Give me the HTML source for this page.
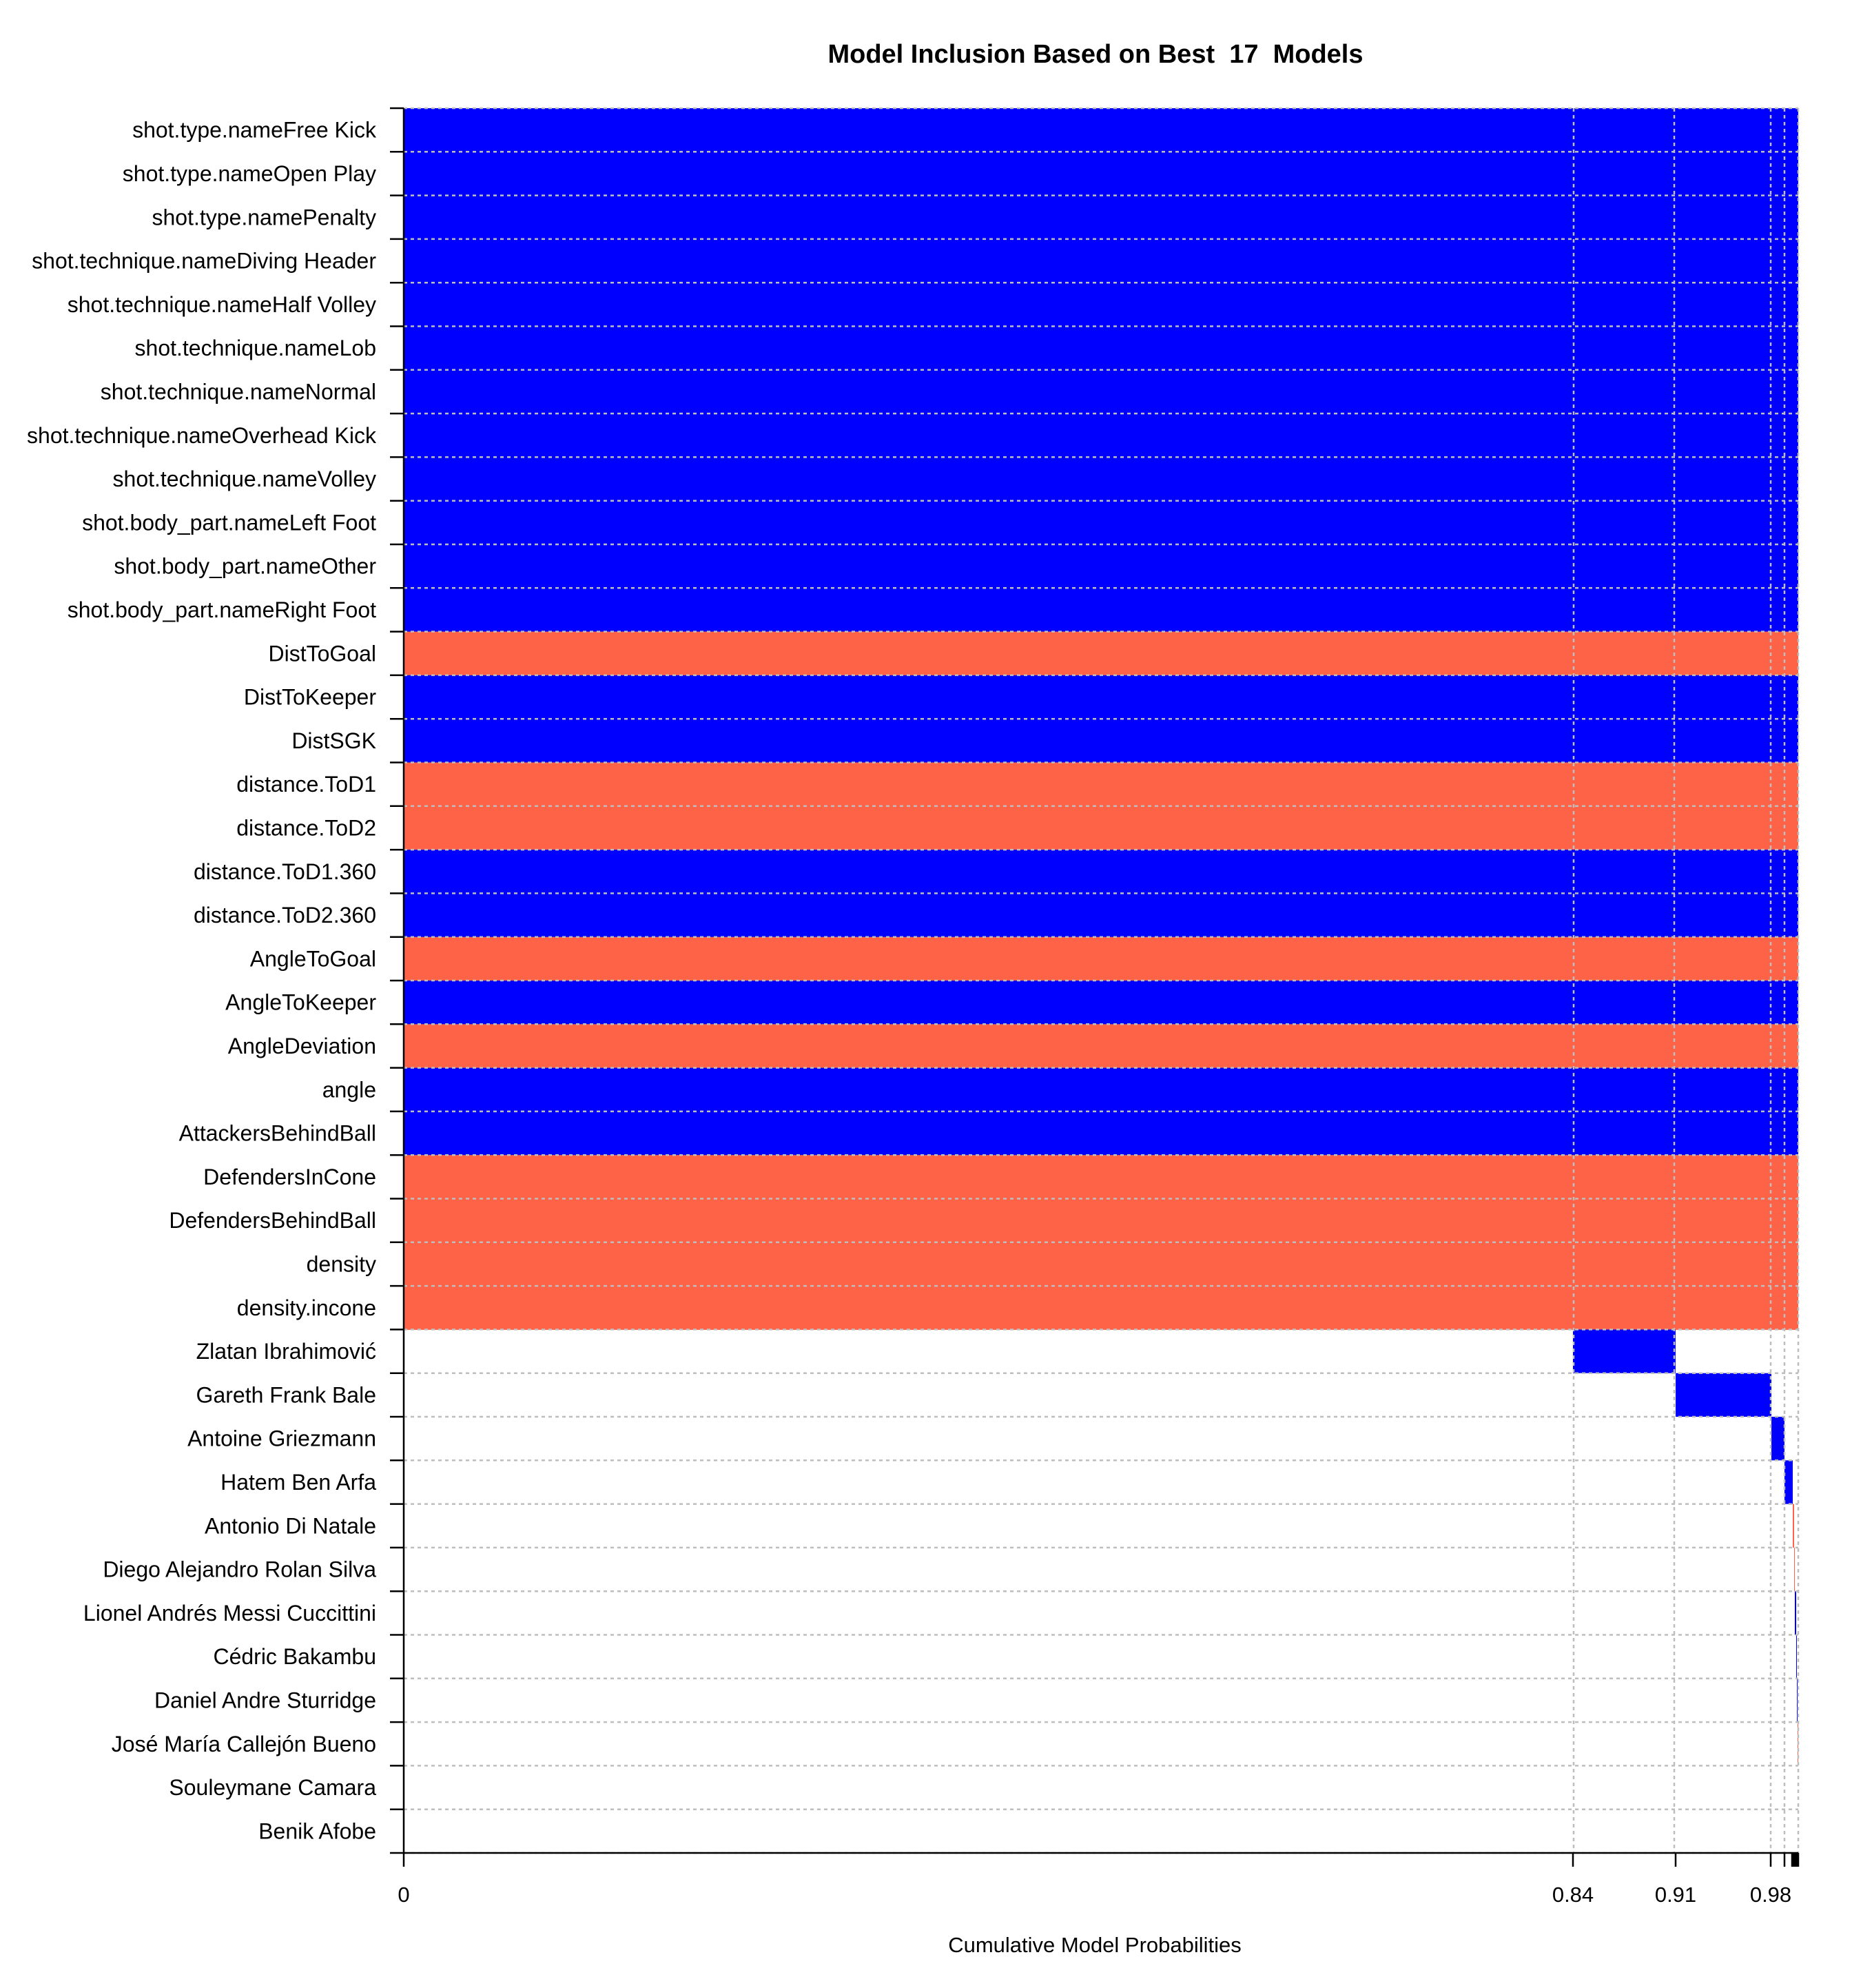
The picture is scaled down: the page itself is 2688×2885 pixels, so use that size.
<!DOCTYPE html>
<html><head><meta charset="utf-8"><style>html,body{margin:0;padding:0;background:#fff}</style></head>
<body>
<svg xmlns="http://www.w3.org/2000/svg" width="2688" height="2880" viewBox="0 0 2688 2880" font-family="Liberation Sans, DejaVu Sans, sans-serif">
<rect width="2688" height="2880" fill="#fff"/>
<g id="bars"></g>
<g id="grid"></g>
<g id="axes"></g>
<g id="labels" font-size="32" text-anchor="end"></g>
<text x="1590" y="91" font-size="38" font-weight="bold" text-anchor="middle" style="white-space:pre" xml:space="preserve">Model Inclusion Based on Best  17  Models</text>
<text x="1589" y="2833" font-size="31" text-anchor="middle">Cumulative Model Probabilities</text>
<g font-size="31" text-anchor="middle">
<text x="586" y="2760">0</text>
<text x="2283" y="2760">0.84</text>
<text x="2432" y="2760">0.91</text>
<text x="2570" y="2760">0.98</text>
</g>
<script>
(function(){
var ns="http://www.w3.org/2000/svg";
function el(p,t,a){var e=document.createElementNS(ns,t);for(var k in a)e.setAttribute(k,a[k]);p.appendChild(e);return e;}
var names=["shot.type.nameFree Kick","shot.type.nameOpen Play","shot.type.namePenalty","shot.technique.nameDiving Header","shot.technique.nameHalf Volley","shot.technique.nameLob","shot.technique.nameNormal","shot.technique.nameOverhead Kick","shot.technique.nameVolley","shot.body_part.nameLeft Foot","shot.body_part.nameOther","shot.body_part.nameRight Foot","DistToGoal","DistToKeeper","DistSGK","distance.ToD1","distance.ToD2","distance.ToD1.360","distance.ToD2.360","AngleToGoal","AngleToKeeper","AngleDeviation","angle","AttackersBehindBall","DefendersInCone","DefendersBehindBall","density","density.incone","Zlatan Ibrahimović","Gareth Frank Bale","Antoine Griezmann","Hatem Ben Arfa","Antonio Di Natale","Diego Alejandro Rolan Silva","Lionel Andrés Messi Cuccittini","Cédric Bakambu","Daniel Andre Sturridge","José María Callejón Bueno","Souleymane Camara","Benik Afobe"];
var red=[12,15,16,19,21,24,25,26,27];
var L=586,R=2610,T=157,H=63.3;
var B=T+40*H;
var bars=document.getElementById("bars"),grid=document.getElementById("grid"),ax=document.getElementById("axes"),lab=document.getElementById("labels");
for(var i=0;i<40;i++){
 var y=T+i*H;
 if(i<28) el(bars,"rect",{x:L,y:y,width:R-L,height:H+0.5,fill:red.indexOf(i)>=0?"#FF6347":"#0000FF"});
 var t=el(lab,"text",{x:546,y:y+H/2+11});t.textContent=names[i];
}
var seg=[[28,2283,2432,"#0000FF"],[29,2432,2571,"#0000FF"],[30,2571,2590,"#0000FF"],[31,2590,2602,"#0000FF"],[32,2602,2604,"#FF6347"],[33,2604,2605,"#FF6347"],[34,2605,2607,"#0000FF"],[35,2607,2608,"#0000FF"],[36,2608,2609,"#0000FF"],[37,2609,2610,"#FF6347"]];
seg.forEach(function(s){el(bars,"rect",{x:s[1],y:T+s[0]*H,width:s[2]-s[1],height:H,fill:s[3]});});
for(var i=0;i<=40;i++){var y=T+i*H;el(grid,"line",{x1:L,x2:R,y1:y,y2:y,stroke:"#bebebe","stroke-width":2.5,"stroke-dasharray":"5 5"});
 el(ax,"line",{x1:566,x2:L,y1:y,y2:y,stroke:"#000","stroke-width":2.5});}
[2284,2430,2570,2590,2610].forEach(function(x){el(grid,"line",{x1:x,x2:x,y1:T,y2:B,stroke:"#bebebe","stroke-width":2.5,"stroke-dasharray":"5 5"});});
el(ax,"line",{x1:L,x2:L,y1:T,y2:B,stroke:"#000","stroke-width":2.5});
el(ax,"line",{x1:L,x2:R,y1:B,y2:B,stroke:"#000","stroke-width":2.5});
[586,2283,2432,2570,2590,2601,2603,2605,2606,2607,2608,2609,2610].forEach(function(x){el(ax,"line",{x1:x,x2:x,y1:B,y2:B+20,stroke:"#000","stroke-width":2.5});});
})();
</script>
</svg>
</body></html>
